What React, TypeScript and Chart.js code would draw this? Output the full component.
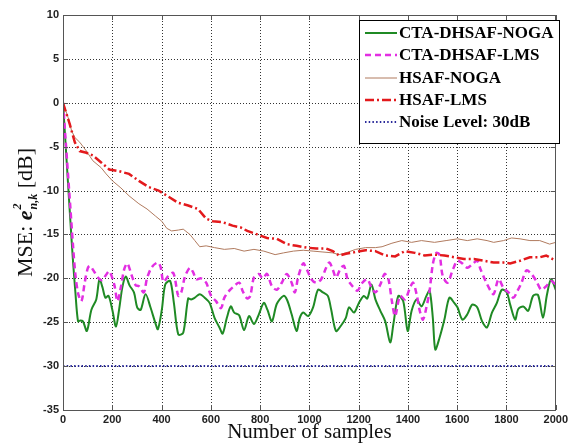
import { useEffect, useRef } from 'react';
import { Chart, registerables } from 'chart.js';

Chart.register(...registerables);

// ---- data ----
const seriesNames = ['CTA-DHSAF-NOGA', 'CTA-DHSAF-LMS', 'HSAF-NOGA', 'HSAF-LMS', 'Noise Level: 30dB'];

const greenX = [0, 10, 20, 30, 40, 50, 61, 70, 81, 97, 115, 135, 148, 160, 172, 185, 201, 215, 228, 241, 255, 270, 288, 301, 315, 335, 355, 375, 385, 401, 415, 435, 450, 468, 488, 508, 520, 535, 555, 575, 595, 615, 635, 648, 665, 681, 695, 715, 735, 755, 775, 795, 815, 830, 848, 868, 895, 910, 928, 948, 961, 975, 995, 1015, 1035, 1055, 1075, 1088, 1108, 1128, 1148, 1161, 1181, 1201, 1221, 1235, 1252, 1268, 1288, 1308, 1328, 1341, 1361, 1381, 1399, 1415, 1435, 1455, 1475, 1488, 1501, 1511, 1528, 1548, 1568, 1588, 1601, 1621, 1641, 1661, 1681, 1701, 1721, 1741, 1761, 1781, 1801, 1815, 1835, 1848, 1868, 1888, 1908, 1928, 1948, 1964, 1981, 2000];
const greenY = [0, -4.5, -9, -13.5, -17.8, -21.5, -24.9, -24.8, -24.9, -26.0, -23.6, -22.4, -20.1, -21.0, -22.2, -22.0, -23.7, -25.5, -23.5, -21.0, -19.8, -20.8, -21.6, -23.3, -23.6, -21.8, -23.3, -25.1, -25.8, -23.6, -20.7, -20.3, -22.8, -26.4, -26.2, -22.3, -22.4, -22.2, -21.8, -22.2, -22.8, -24.5, -25.6, -26.3, -24.5, -23.2, -23.9, -24.2, -25.9, -24.3, -25.2, -24.1, -22.8, -23.6, -24.9, -22.9, -22.0, -22.5, -24.1, -26.0, -24.5, -23.9, -24.3, -23.3, -21.3, -21.6, -22.0, -23.5, -26.0, -25.4, -24.5, -23.3, -23.9, -22.8, -22.0, -22.3, -20.7, -22.4, -23.7, -24.9, -27.3, -25.2, -22.0, -22.6, -26.0, -23.7, -22.4, -23.2, -22.0, -21.4, -24.5, -28.1, -26.8, -24.7, -22.2, -22.8, -23.3, -24.7, -24.1, -23.0, -23.3, -24.9, -25.6, -23.9, -22.8, -21.3, -21.6, -23.0, -24.7, -23.5, -23.2, -23.7, -22.0, -21.9, -24.5, -21.9, -20.1, -21.3];

const magentaX = [0, 10, 20, 30, 40, 50, 62, 75, 88, 101, 110, 128, 148, 160, 175, 188, 208, 221, 235, 248, 261, 278, 295, 308, 328, 341, 361, 385, 396, 408, 428, 448, 468, 480, 495, 515, 528, 541, 560, 581, 601, 621, 641, 655, 675, 690, 715, 730, 748, 760, 775, 795, 810, 828, 848, 868, 888, 908, 928, 941, 955, 975, 990, 1008, 1028, 1048, 1068, 1081, 1095, 1108, 1128, 1141, 1155, 1175, 1195, 1215, 1235, 1250, 1268, 1288, 1305, 1320, 1335, 1348, 1368, 1388, 1408, 1421, 1435, 1448, 1461, 1475, 1488, 1501, 1515, 1528, 1541, 1561, 1581, 1601, 1621, 1641, 1661, 1681, 1695, 1715, 1735, 1748, 1768, 1788, 1808, 1828, 1845, 1861, 1881, 1901, 1921, 1941, 1961, 1981, 2000];
const magentaY = [0, -4, -8, -12, -16, -19.5, -21.8, -22.6, -20.5, -18.8, -18.6, -19.3, -20.1, -20.2, -19.6, -19.2, -20.7, -22.6, -21.0, -19.0, -18.3, -19.6, -20.8, -20.9, -21.6, -20.0, -18.7, -18.2, -18.7, -20.4, -19.7, -19.4, -22.0, -21.6, -19.8, -18.8, -19.3, -20.1, -20.0, -20.5, -22.0, -22.6, -23.4, -22.2, -21.4, -21.0, -20.5, -21.5, -22.3, -22.0, -19.9, -19.5, -20.0, -19.5, -20.9, -21.3, -20.5, -19.5, -20.5, -21.6, -19.8, -18.3, -19.0, -20.1, -20.5, -20.1, -18.8, -18.2, -19.0, -19.9, -18.8, -18.6, -20.1, -20.9, -21.4, -20.5, -20.1, -20.9, -21.6, -20.7, -19.5, -20.0, -22.6, -24.3, -22.0, -22.4, -21.1, -20.5, -21.8, -23.7, -24.7, -23.3, -21.4, -18.4, -17.1, -17.3, -19.7, -20.5, -19.1, -18.0, -18.3, -18.8, -18.4, -18.0, -19.0, -20.3, -21.4, -21.8, -20.1, -21.1, -21.6, -22.2, -21.4, -20.5, -19.1, -19.5, -20.3, -21.3, -20.9, -20.3, -20.7];

const brownX = [0, 4, 21, 35, 48, 68, 95, 121, 155, 175, 201, 235, 268, 308, 341, 375, 401, 421, 441, 468, 488, 515, 535, 555, 581, 615, 655, 695, 735, 775, 815, 861, 895, 935, 975, 1015, 1055, 1095, 1121, 1148, 1188, 1228, 1268, 1295, 1335, 1375, 1415, 1455, 1508, 1555, 1601, 1641, 1681, 1721, 1748, 1788, 1821, 1855, 1895, 1935, 1975, 2000];
const brownY = [0, 0, -1.7, -3.2, -3.95, -4.5, -5.5, -6.6, -7.4, -8.1, -8.9, -9.7, -10.6, -11.5, -12.1, -12.9, -13.5, -14.3, -14.6, -14.5, -14.4, -15.0, -15.7, -16.4, -16.3, -16.5, -16.7, -16.6, -16.9, -16.7, -16.9, -17.3, -17.1, -16.9, -16.8, -16.9, -17.0, -17.1, -17.3, -17.1, -16.7, -16.5, -16.5, -16.4, -16.0, -15.7, -15.9, -15.7, -15.9, -15.7, -15.5, -15.7, -15.5, -15.7, -15.9, -15.7, -15.4, -15.5, -15.7, -15.7, -16.1, -15.9];

const redX = [0, 28, 48, 68, 95, 121, 155, 188, 228, 268, 308, 348, 388, 428, 468, 508, 548, 581, 608, 648, 688, 721, 748, 788, 828, 868, 908, 948, 988, 1028, 1068, 1095, 1121, 1148, 1188, 1228, 1268, 1308, 1348, 1388, 1428, 1468, 1508, 1548, 1588, 1628, 1668, 1708, 1748, 1788, 1815, 1855, 1895, 1935, 1961, 2000];
const redY = [0, -2.5, -4.5, -5.5, -5.7, -6.0, -6.8, -7.6, -7.8, -8.1, -8.9, -9.6, -10.0, -10.7, -11.4, -11.7, -12.1, -13.2, -13.5, -13.6, -14.0, -14.2, -14.6, -15.0, -15.4, -15.5, -16.1, -16.3, -16.5, -16.6, -16.6, -16.9, -17.4, -17.2, -17.0, -16.8, -16.9, -17.4, -17.5, -16.9, -17.1, -17.4, -17.3, -17.4, -17.6, -17.8, -17.8, -18.0, -18.2, -18.2, -18.3, -18.0, -17.6, -17.6, -17.4, -18.0];

const noiseX = [0, 2000];
const noiseY = [-30, -30];

const xTickValues = [0, 200, 400, 600, 800, 1000, 1200, 1400, 1600, 1800, 2000];
const yTickValues = [10, 5, 0, -5, -10, -15, -20, -25, -30, -35];

const toPoints = (xs: number[], ys: number[]) => xs.map((x, i) => ({ x, y: ys[i] }));

// ---- styles ----
const styles = [
  { color: '#1f8a24', width: 2, dash: [] as number[], tension: 0.3 },
  { color: '#e22ee2', width: 2.5, dash: [6, 4], tension: 0.3 },
  { color: '#b07a5e', width: 1, dash: [] as number[], tension: 0 },
  { color: '#e3191c', width: 2.5, dash: [9, 3, 2, 3], tension: 0 },
  { color: '#2a2a9a', width: 2, dash: [1.5, 2.2], tension: 0 },
];

const drawGrid = (chart: any) => {
  const ctx = chart.ctx as CanvasRenderingContext2D;
  const { left, right, top, bottom } = chart.chartArea;
  const xs = chart.scales.x;
  const ys = chart.scales.y;
  ctx.save();
  ctx.strokeStyle = '#333333';
  ctx.lineWidth = 1;
  ctx.setLineDash([1, 2]);
  xTickValues.slice(1, -1).forEach((v) => {
    const px = Math.round(xs.getPixelForValue(v)) + 0.5;
    ctx.beginPath();
    ctx.moveTo(px, top);
    ctx.lineTo(px, bottom);
    ctx.stroke();
  });
  yTickValues.slice(1, -1).forEach((v) => {
    const py = Math.round(ys.getPixelForValue(v)) + 0.5;
    ctx.beginPath();
    ctx.moveTo(left, py);
    ctx.lineTo(right, py);
    ctx.stroke();
  });
  ctx.restore();
};

const gridPlugin = {
  id: 'matlabGrid',
  beforeDatasetsDraw(chart: any) {
    drawGrid(chart);
  },
};

const framePlugin = {
  id: 'matlabFrame',
  afterDraw(chart: any) {
    const ctx = chart.ctx as CanvasRenderingContext2D;
    const { left, right, top, bottom } = chart.chartArea;
    const xs = chart.scales.x;
    const ys = chart.scales.y;
    ctx.save();
    // inner ticks
    ctx.strokeStyle = '#555';
    ctx.lineWidth = 1;
    ctx.setLineDash([]);
    ctx.beginPath();
    xTickValues.forEach((v) => {
      const px = Math.round(xs.getPixelForValue(v)) + 0.5;
      ctx.moveTo(px, bottom);
      ctx.lineTo(px, bottom - 5);
      ctx.moveTo(px, top);
      ctx.lineTo(px, top + 5);
    });
    yTickValues.forEach((v) => {
      const py = Math.round(ys.getPixelForValue(v)) + 0.5;
      ctx.moveTo(left, py);
      ctx.lineTo(left + 5, py);
      ctx.moveTo(right, py);
      ctx.lineTo(right - 5, py);
    });
    ctx.stroke();
    // frame
    ctx.strokeStyle = '#555';
    ctx.strokeRect(Math.round(left) + 0.5, Math.round(top) + 0.5, Math.round(right - left) - 1, Math.round(bottom - top));

    // x title
    ctx.fillStyle = '#111';
    ctx.font = '21px "Liberation Serif"';
    ctx.textAlign = 'center';
    ctx.textBaseline = 'middle';
    ctx.fillText('Number of samples', (left + right) / 2, 432);

    // y title (rotated, with super/subscripts)
    const mainFont = '22px "Liberation Serif"';
    const eFont = 'italic bold 22px "Liberation Serif"';
    const smallFont = 'italic bold 12px "Liberation Serif"';
    ctx.save();
    ctx.translate(32, (top + bottom) / 2);
    ctx.rotate(-Math.PI / 2);
    ctx.textAlign = 'left';
    ctx.textBaseline = 'alphabetic';
    ctx.font = mainFont;
    const p1 = 'MSE: ';
    const p3 = ' [dB]';
    const w1 = ctx.measureText(p1).width;
    const w3 = ctx.measureText(p3).width;
    ctx.font = eFont;
    const we = ctx.measureText('e').width;
    ctx.font = smallFont;
    const wsub = ctx.measureText('n,k').width;
    const wsup = ctx.measureText('2').width;
    const wss = Math.max(wsub, wsup) + 1;
    const total = w1 + we + wss + w3;
    let cx = -total / 2;
    ctx.font = mainFont;
    ctx.fillText(p1, cx, 0);
    cx += w1;
    ctx.font = eFont;
    ctx.fillText('e', cx, 0);
    cx += we + 1;
    ctx.font = smallFont;
    ctx.fillText('2', cx, -11);
    ctx.fillText('n,k', cx, 5);
    cx += wss - 1;
    ctx.font = mainFont;
    ctx.fillText(p3, cx, 0);
    ctx.restore();

    // legend
    const bx = 359.5, by = 20.5, bw = 200, bh = 123;
    ctx.fillStyle = '#fff';
    ctx.fillRect(bx, by, bw, bh);
    ctx.strokeStyle = '#000';
    ctx.lineWidth = 1;
    ctx.strokeRect(bx, by, bw, bh);
    const rows = [33, 55, 78, 100, 122];
    seriesNames.forEach((name, i) => {
      const st = styles[i];
      ctx.strokeStyle = st.color;
      ctx.lineWidth = st.width;
      ctx.setLineDash(st.dash);
      ctx.beginPath();
      ctx.moveTo(365, rows[i]);
      ctx.lineTo(397, rows[i]);
      ctx.stroke();
      ctx.setLineDash([]);
      ctx.fillStyle = '#000';
      ctx.font = 'bold 17px "Liberation Serif"';
      ctx.textAlign = 'left';
      ctx.textBaseline = 'middle';
      ctx.fillText(name, 399, rows[i] + 1);
    });
    ctx.restore();
  },
};

export default function App() {
  const ref = useRef<HTMLCanvasElement | null>(null);
  useEffect(() => {
    if (!ref.current) return;
    const seriesPts = [
      toPoints(greenX, greenY),
      toPoints(magentaX, magentaY),
      toPoints(brownX, brownY),
      toPoints(redX, redY),
      toPoints(noiseX, noiseY),
    ];
    const tickFont = { family: '"Liberation Sans"', size: 11, weight: 'bold' };
    const chart = new Chart(ref.current, {
      type: 'line',
      data: {
        datasets: seriesPts.map((pts, i) => ({
          label: seriesNames[i],
          data: pts,
          borderColor: styles[i].color,
          borderWidth: styles[i].width,
          borderDash: styles[i].dash,
          pointRadius: 0,
          tension: styles[i].tension,
          fill: false,
          order: 5 - i,
        })),
      },
      options: {
        animation: false,
        responsive: false,
        layout: { padding: { top: 15, right: 8, left: 0, bottom: 0 }, autoPadding: false },
        plugins: { legend: { display: false }, tooltip: { enabled: false }, title: { display: false } },
        scales: {
          x: {
            type: 'linear',
            min: 0,
            max: 2000,
            afterFit: (s: any) => { s.height = 35; },
            afterBuildTicks: (s: any) => { s.ticks = xTickValues.map((v) => ({ value: v })); },
            ticks: { color: '#222', font: tickFont, padding: 3, maxRotation: 0, autoSkip: false, callback: (v: any) => String(v) },
            grid: { display: false, drawTicks: false },
            border: { display: false },
          },
          y: {
            type: 'linear',
            min: -35,
            max: 10,
            afterFit: (s: any) => { s.width = 63; },
            afterBuildTicks: (s: any) => { s.ticks = yTickValues.map((v) => ({ value: v })); },
            ticks: { color: '#222', font: tickFont, padding: 4, autoSkip: false, callback: (v: any) => String(v) },
            grid: { display: false, drawTicks: false },
            border: { display: false },
          },
        },
      },
      plugins: [gridPlugin, framePlugin],
    } as any);
    return () => chart.destroy();
  }, []);
  return (
    <div style={{ position: 'absolute', left: 0, top: 0, width: 571, height: 445, background: '#fff' }}>
      <canvas ref={ref} width={571} height={445} style={{ width: 571, height: 445, display: 'block' }} />
    </div>
  );
}
